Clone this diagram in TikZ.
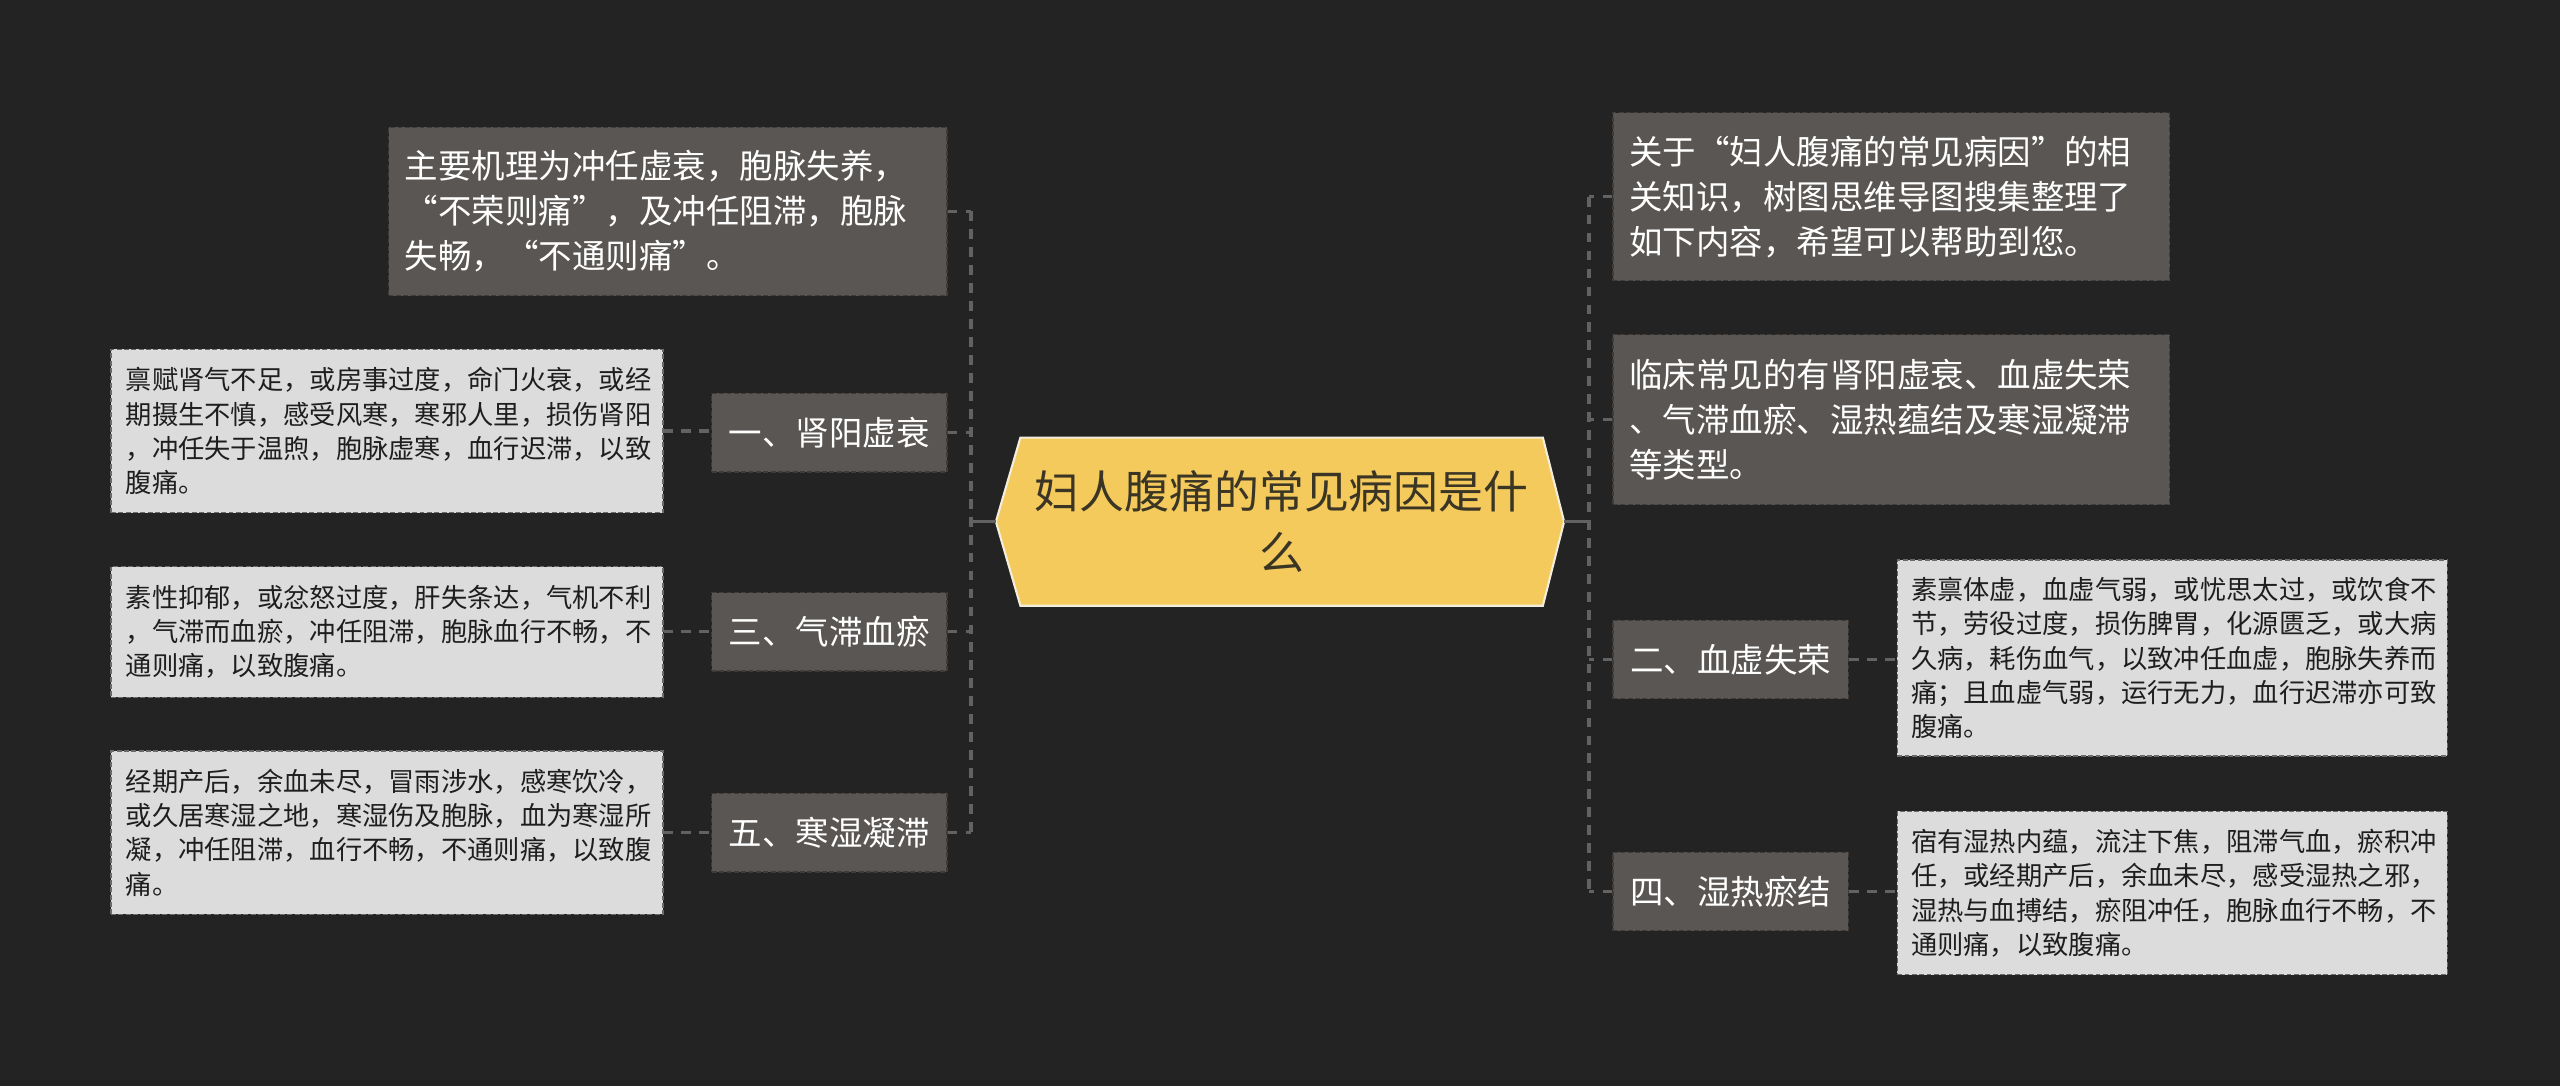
\documentclass[tikz,border=0pt]{standalone}
\usepackage{fontspec}
\setmainfont{Noto Sans CJK SC}
\usetikzlibrary{calc}
\definecolor{bgc}{HTML}{232323}
\definecolor{boxc}{HTML}{5A5653}
\definecolor{boxb}{HTML}{3E3B39}
\definecolor{leafc}{HTML}{DCDCDC}
\definecolor{leafb}{HTML}{6A6A6A}
\definecolor{leaft}{HTML}{1E1E1E}
\definecolor{rootc}{HTML}{F4CA5C}
\definecolor{rootb}{HTML}{F3EEDB}
\definecolor{roott}{HTML}{3A3524}
\definecolor{connc}{HTML}{626262}
\begin{document}
\begin{tikzpicture}[x=1pt,y=-1pt,
  conn/.style={draw=connc, line width=2pt, dash pattern=on 6pt off 5pt},
  rootconn/.style={draw=connc, line width=1.5pt},
  darkbox/.style={fill=boxc, draw=boxb, line width=0.8pt, dash pattern=on 3pt off 1.5pt,
    text=white, inner sep=0pt, align=left, font=\fontsize{20.5}{27.5}\selectfont},
  branch/.style={fill=boxc, draw=boxb, line width=0.8pt, dash pattern=on 3pt off 1.5pt,
    text=white, inner sep=0pt, minimum width=144, minimum height=48, font=\fontsize{20.5}{24}\selectfont},
  leaf/.style={fill=leafc, draw=leafb, line width=0.8pt, dash pattern=on 3pt off 1.5pt,
    text=leaft, inner sep=0pt, align=left, minimum width=338, text width=320, font=\fontsize{16.1}{21}\selectfont},
]
\fill[bgc] (0,0) rectangle (1568,665);
\useasboundingbox (0,0) rectangle (1568,665);

% root
\coordinate (rc) at (785,319.5);
\filldraw[fill=rootc, draw=rootb, line width=1.3pt]
  ($(rc)+(-160,-51.5)$) -- ($(rc)+(160,-51.5)$) -- ($(rc)+(173,0)$) -- ($(rc)+(160,51.5)$)
  -- ($(rc)+(-160,51.5)$) -- ($(rc)+(-175,0)$) -- cycle;
\node[inner sep=0pt, minimum width=320, minimum height=103, align=center, text=roott,
  font=\fontsize{27.5}{37}\selectfont] (root) at (rc) {妇人腹痛的常见病因是什\\么};
\coordinate (cl) at ($(root.west)+(-15,0)$);
\coordinate (cr) at ($(root.east)+(13,0)$);

% left side
\node[darkbox, minimum width=342, minimum height=103, text width=322] (a) at (409,129.5)
  {主要机理为冲任虚衰，胞脉失养，\\“不荣则痛”，及冲任阻滞，胞脉\\失畅，“不通则痛”。};
\node[branch] (l1) at (508,265) {一、肾阳虚衰};
\node[branch] (l3) at (508,387) {三、气滞血瘀};
\node[branch] (l5) at (508,510) {五、寒湿凝滞};
\node[leaf, minimum height=100] (f1) at (237,264)
  {禀赋肾气不足，或房事过度，命门火衰，或经\\期摄生不慎，感受风寒，寒邪人里，损伤肾阳\\，冲任失于温煦，胞脉虚寒，血行迟滞，以致\\腹痛。};
\node[leaf, minimum height=80] (f3) at (237,387)
  {素性抑郁，或忿怒过度，肝失条达，气机不利\\，气滞而血瘀，冲任阻滞，胞脉血行不畅，不\\通则痛，以致腹痛。};
\node[leaf, minimum height=100] (f5) at (237,510)
  {经期产后，余血未尽，冒雨涉水，感寒饮冷，\\或久居寒湿之地，寒湿伤及胞脉，血为寒湿所\\凝，冲任阻滞，血行不畅，不通则痛，以致腹\\痛。};

% right side
\node[darkbox, minimum width=341, minimum height=103, text width=321] (b) at (1158.5,120.5)
  {关于“妇人腹痛的常见病因”的相\\关知识，树图思维导图搜集整理了\\如下内容，希望可以帮助到您。};
\node[darkbox, minimum width=341, minimum height=104, text width=321] (c) at (1158.5,257)
  {临床常见的有肾阳虚衰、血虚失荣\\、气滞血瘀、湿热蕴结及寒湿凝滞\\等类型。};
\node[branch] (r2) at (1060,404) {二、血虚失荣};
\node[branch] (r4) at (1060,546) {四、湿热瘀结};
\node[leaf, minimum height=120, minimum width=337] (f2) at (1330.5,403)
  {素禀体虚，血虚气弱，或忧思太过，或饮食不\\节，劳役过度，损伤脾胃，化源匮乏，或大病\\久病，耗伤血气，以致冲任血虚，胞脉失养而\\痛；且血虚气弱，运行无力，血行迟滞亦可致\\腹痛。};
\node[leaf, minimum height=100, minimum width=337] (f4) at (1330.5,547)
  {宿有湿热内蕴，流注下焦，阻滞气血，瘀积冲\\任，或经期产后，余血未尽，感受湿热之邪，\\湿热与血搏结，瘀阻冲任，胞脉血行不畅，不\\通则痛，以致腹痛。};

% connectors left
\coordinate (lt) at ($(cl)+(-15,0)$);
\draw[rootconn] (cl) -- (lt);
\draw[conn] (a.east -| lt) -- (l5.east -| lt);
\draw[conn] (a.east) -- (a.east -| lt);
\draw[conn] (l1.east) -- (l1.east -| lt);
\draw[conn] (l3.east) -- (l3.east -| lt);
\draw[conn] (l5.east) -- (l5.east -| lt);
\draw[conn] (f1.east) -- (f1.east -| l1.west);
\draw[conn] (f3.east) -- (f3.east -| l3.west);
\draw[conn] (f5.east) -- (f5.east -| l5.west);

% connectors right
\coordinate (rt) at ($(cr)+(15,0)$);
\draw[rootconn] (cr) -- (rt);
\draw[conn] (b.west -| rt) -- (r4.west -| rt);
\draw[conn] (b.west) -- (b.west -| rt);
\draw[conn] (c.west) -- (c.west -| rt);
\draw[conn] (r2.west) -- (r2.west -| rt);
\draw[conn] (r4.west) -- (r4.west -| rt);
\draw[conn] (r2.east) -- (r2.east -| f2.west);
\draw[conn] (r4.east) -- (r4.east -| f4.west);
\end{tikzpicture}
\end{document}
